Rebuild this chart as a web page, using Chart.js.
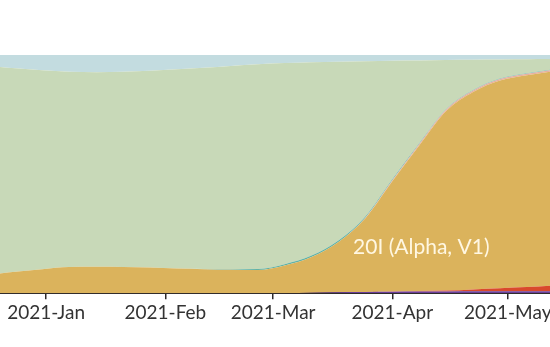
<!DOCTYPE html>
<html>
<head>
<meta charset="utf-8">
<script src="https://cdn.jsdelivr.net/npm/chart.js@4"></script>
<style>
  html, body { margin: 0; padding: 0; background: #fff; }
  #wrap { width: 550px; height: 347px; position: relative; }
</style>
</head>
<body>
<div id="wrap"><canvas id="freqChart"></canvas></div>
<script>
// sample dates (weekly)
const dates = ['2020-12-17', '2020-12-24', '2020-12-31', '2021-01-07', '2021-01-14', '2021-01-21',
  '2021-01-28', '2021-02-04', '2021-02-11', '2021-02-18', '2021-02-25', '2021-03-04', '2021-03-11',
  '2021-03-18', '2021-03-25', '2021-04-01', '2021-04-08', '2021-04-15', '2021-04-22', '2021-04-29',
  '2021-05-06', '2021-05-13'];

// frequencies in %, bottom to top of the stack
const purple = [0, 0, 0, 0, 0, 0, 0, 0, 0, 0, 0, 0, 0.2, 0.4, 0.5, 0.6, 0.7, 0.7, 0.8, 0.8, 0.8, 0.8];
const red    = [0, 0, 0, 0, 0, 0, 0, 0, 0, 0, 0, 0, 0, 0, 0, 0.1, 0.2, 0.4, 0.8, 1.3, 1.8, 2.4];
const alpha  = [7.8, 9.0, 10.1, 11.0, 11.1, 11.0, 10.8, 10.4, 10.1, 9.8, 9.7, 11.6, 15.0, 21.1, 31.0, 46.3, 61.1, 75.4, 82.9, 87.2, 88.9, 90.0];
const pink   = [0, 0, 0, 0, 0, 0, 0, 0, 0, 0, 0, 0, 0, 0, 0.2, 0.4, 0.6, 0.6, 0.6, 0.6, 0.6, 0.6];
const teal   = [0, 0, 0, 0, 0, 0, 0, 0, 0.1, 0.3, 0.5, 0.6, 0.6, 0.6, 0.5, 0.4, 0.3, 0.2, 0.2, 0.2, 0.2, 0.2];
const green  = [87.6, 85.4, 83.5, 82.0, 81.7, 82.0, 82.6, 83.6, 84.4, 85.3, 85.9, 84.4, 81.2, 75.1, 65.2, 49.8, 34.8, 20.6, 12.7, 8.0, 5.9, 4.3];
const blue   = [4.6, 5.6, 6.4, 7.0, 7.2, 7.0, 6.6, 6.0, 5.4, 4.6, 3.9, 3.4, 3.0, 2.8, 2.6, 2.4, 2.3, 2.1, 2.0, 1.9, 1.8, 1.7];

const tickDates = ['2021-01-01', '2021-02-01', '2021-03-01', '2021-04-01', '2021-05-01'];
const tickLabels = ['2021-Jan', '2021-Feb', '2021-Mar', '2021-Apr', '2021-May'];

const X_MIN = '2020-12-20';
const X_MAX = '2021-05-12';

const BASE = Date.UTC(2021, 0, 1);
function dayNum(s) {
  const [y, m, d] = s.split('-').map(Number);
  return (Date.UTC(y, m - 1, d) - BASE) / 86400000;
}

const xs = dates.map(dayNum);
const tickDays = tickDates.map(dayNum);

function series(vals) {
  return vals.map((v, i) => ({ x: xs[i], y: v }));
}

const layers = [
  { label: 'purple', data: purple, color: '#6B3F98' },
  { label: 'red', data: red, color: '#D9492C' },
  { label: '20I (Alpha, V1)', data: alpha, color: '#DBB35C' },
  { label: 'pink', data: pink, color: '#E6B0A2' },
  { label: 'teal', data: teal, color: '#62B3A7' },
  { label: 'green', data: green, color: '#C8D9B8' },
  { label: 'blue', data: blue, color: '#C3DCE0' },
];

const streamLabel = {
  id: 'streamLabel',
  afterDatasetsDraw(chart) {
    const { ctx, scales } = chart;
    ctx.save();
    ctx.font = "21px Lato, sans-serif";
    ctx.fillStyle = '#FFF7E2';
    ctx.textAlign = 'left';
    ctx.textBaseline = 'alphabetic';
    ctx.fillText('20I (Alpha, V1)', scales.x.getPixelForValue(79.8), scales.y.getPixelForValue(16.5));
    ctx.restore();
  }
};

new Chart(document.getElementById('freqChart'), {
  type: 'line',
  data: {
    datasets: layers.map((l, i) => ({
      label: l.label,
      data: series(l.data),
      backgroundColor: l.color,
      borderColor: l.color,
      borderWidth: 0,
      pointRadius: 0,
      fill: i === 0 ? 'origin' : '-1',
      cubicInterpolationMode: 'monotone',
    }))
  },
  options: {
    responsive: true,
    maintainAspectRatio: false,
    animation: false,
    layout: { padding: { top: 55, left: 0, right: 0, bottom: 21 } },
    plugins: {
      legend: { display: false },
      tooltip: { enabled: false },
    },
    scales: {
      x: {
        type: 'linear',
        min: dayNum(X_MIN),
        max: dayNum(X_MAX),
        afterBuildTicks: (scale) => { scale.ticks = tickDays.map(v => ({ value: v })); },
        afterFit: (scale) => { scale.paddingLeft = 0; scale.paddingRight = 0; },
        border: { display: true, color: '#2E2A2A', width: 2 },
        grid: { display: true, drawOnChartArea: false, drawTicks: true, tickLength: 6, color: '#2E2A2A', lineWidth: 1.5 },
        ticks: {
          autoSkip: false,
          maxRotation: 0,
          padding: 2,
          color: '#333',
          font: { family: 'Lato', size: 19 },
          callback: (v) => {
            const i = tickDays.indexOf(v);
            return i >= 0 ? tickLabels[i] : '';
          }
        }
      },
      y: {
        display: false,
        stacked: true,
        min: 0,
        max: 100,
      }
    }
  },
  plugins: [streamLabel]
});
</script>
</body>
</html>
